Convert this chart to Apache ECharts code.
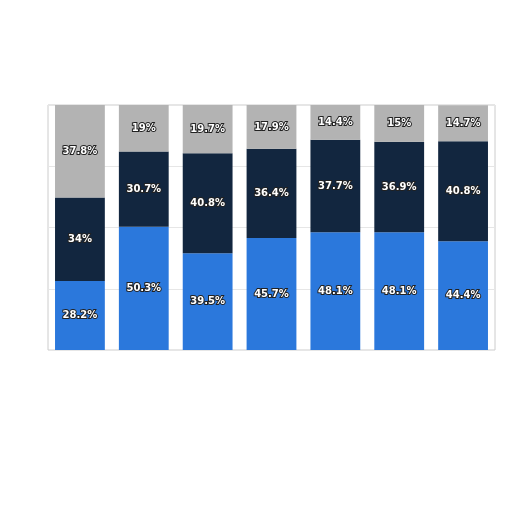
<!DOCTYPE html>
<html><head><meta charset="utf-8">
<script src="https://cdn.jsdelivr.net/npm/echarts@6/dist/echarts.min.js"></script>
<style>html,body{margin:0;background:#fff}#c{width:512px;height:512px}</style>
</head><body><div id="c"></div>
<script>
const categories = ['1','2','3','4','5','6','7'];
const blueVals = [28.2, 50.3, 39.5, 45.7, 48.1, 48.1, 44.4];
const navyVals = [34, 30.7, 40.8, 36.4, 37.7, 36.9, 40.8];
const grayVals = [37.8, 19, 19.7, 17.9, 14.4, 15, 14.7];
const lbl = {show:true, position:'inside', color:'#fff', fontWeight:'bold', fontSize:10,
  fontFamily:'DejaVu Sans', textBorderColor:'#222', textBorderWidth:2, formatter: p => p.value + '%'};
const mk = (name, data, color) => ({name, type:'bar', stack:'s', data, barWidth:'78%',
  itemStyle:{color}, label:lbl});
echarts.init(document.getElementById('c')).setOption({
  animation:false,
  grid:{left:48, right:17, top:105, bottom:162, borderColor:'#ccc', borderWidth:1, show:true},
  xAxis:{type:'category', data:categories, axisLabel:{show:false}, axisTick:{show:false}, axisLine:{show:false}},
  yAxis:{type:'value', min:0, max:100, interval:25, axisLabel:{show:false},
    splitLine:{lineStyle:{color:'#e6e6e6'}}},
  series:[mk('A', blueVals, '#2b78dc'), mk('B', navyVals, '#12263f'), mk('C', grayVals, '#b3b3b3')]
});
</script></body></html>
